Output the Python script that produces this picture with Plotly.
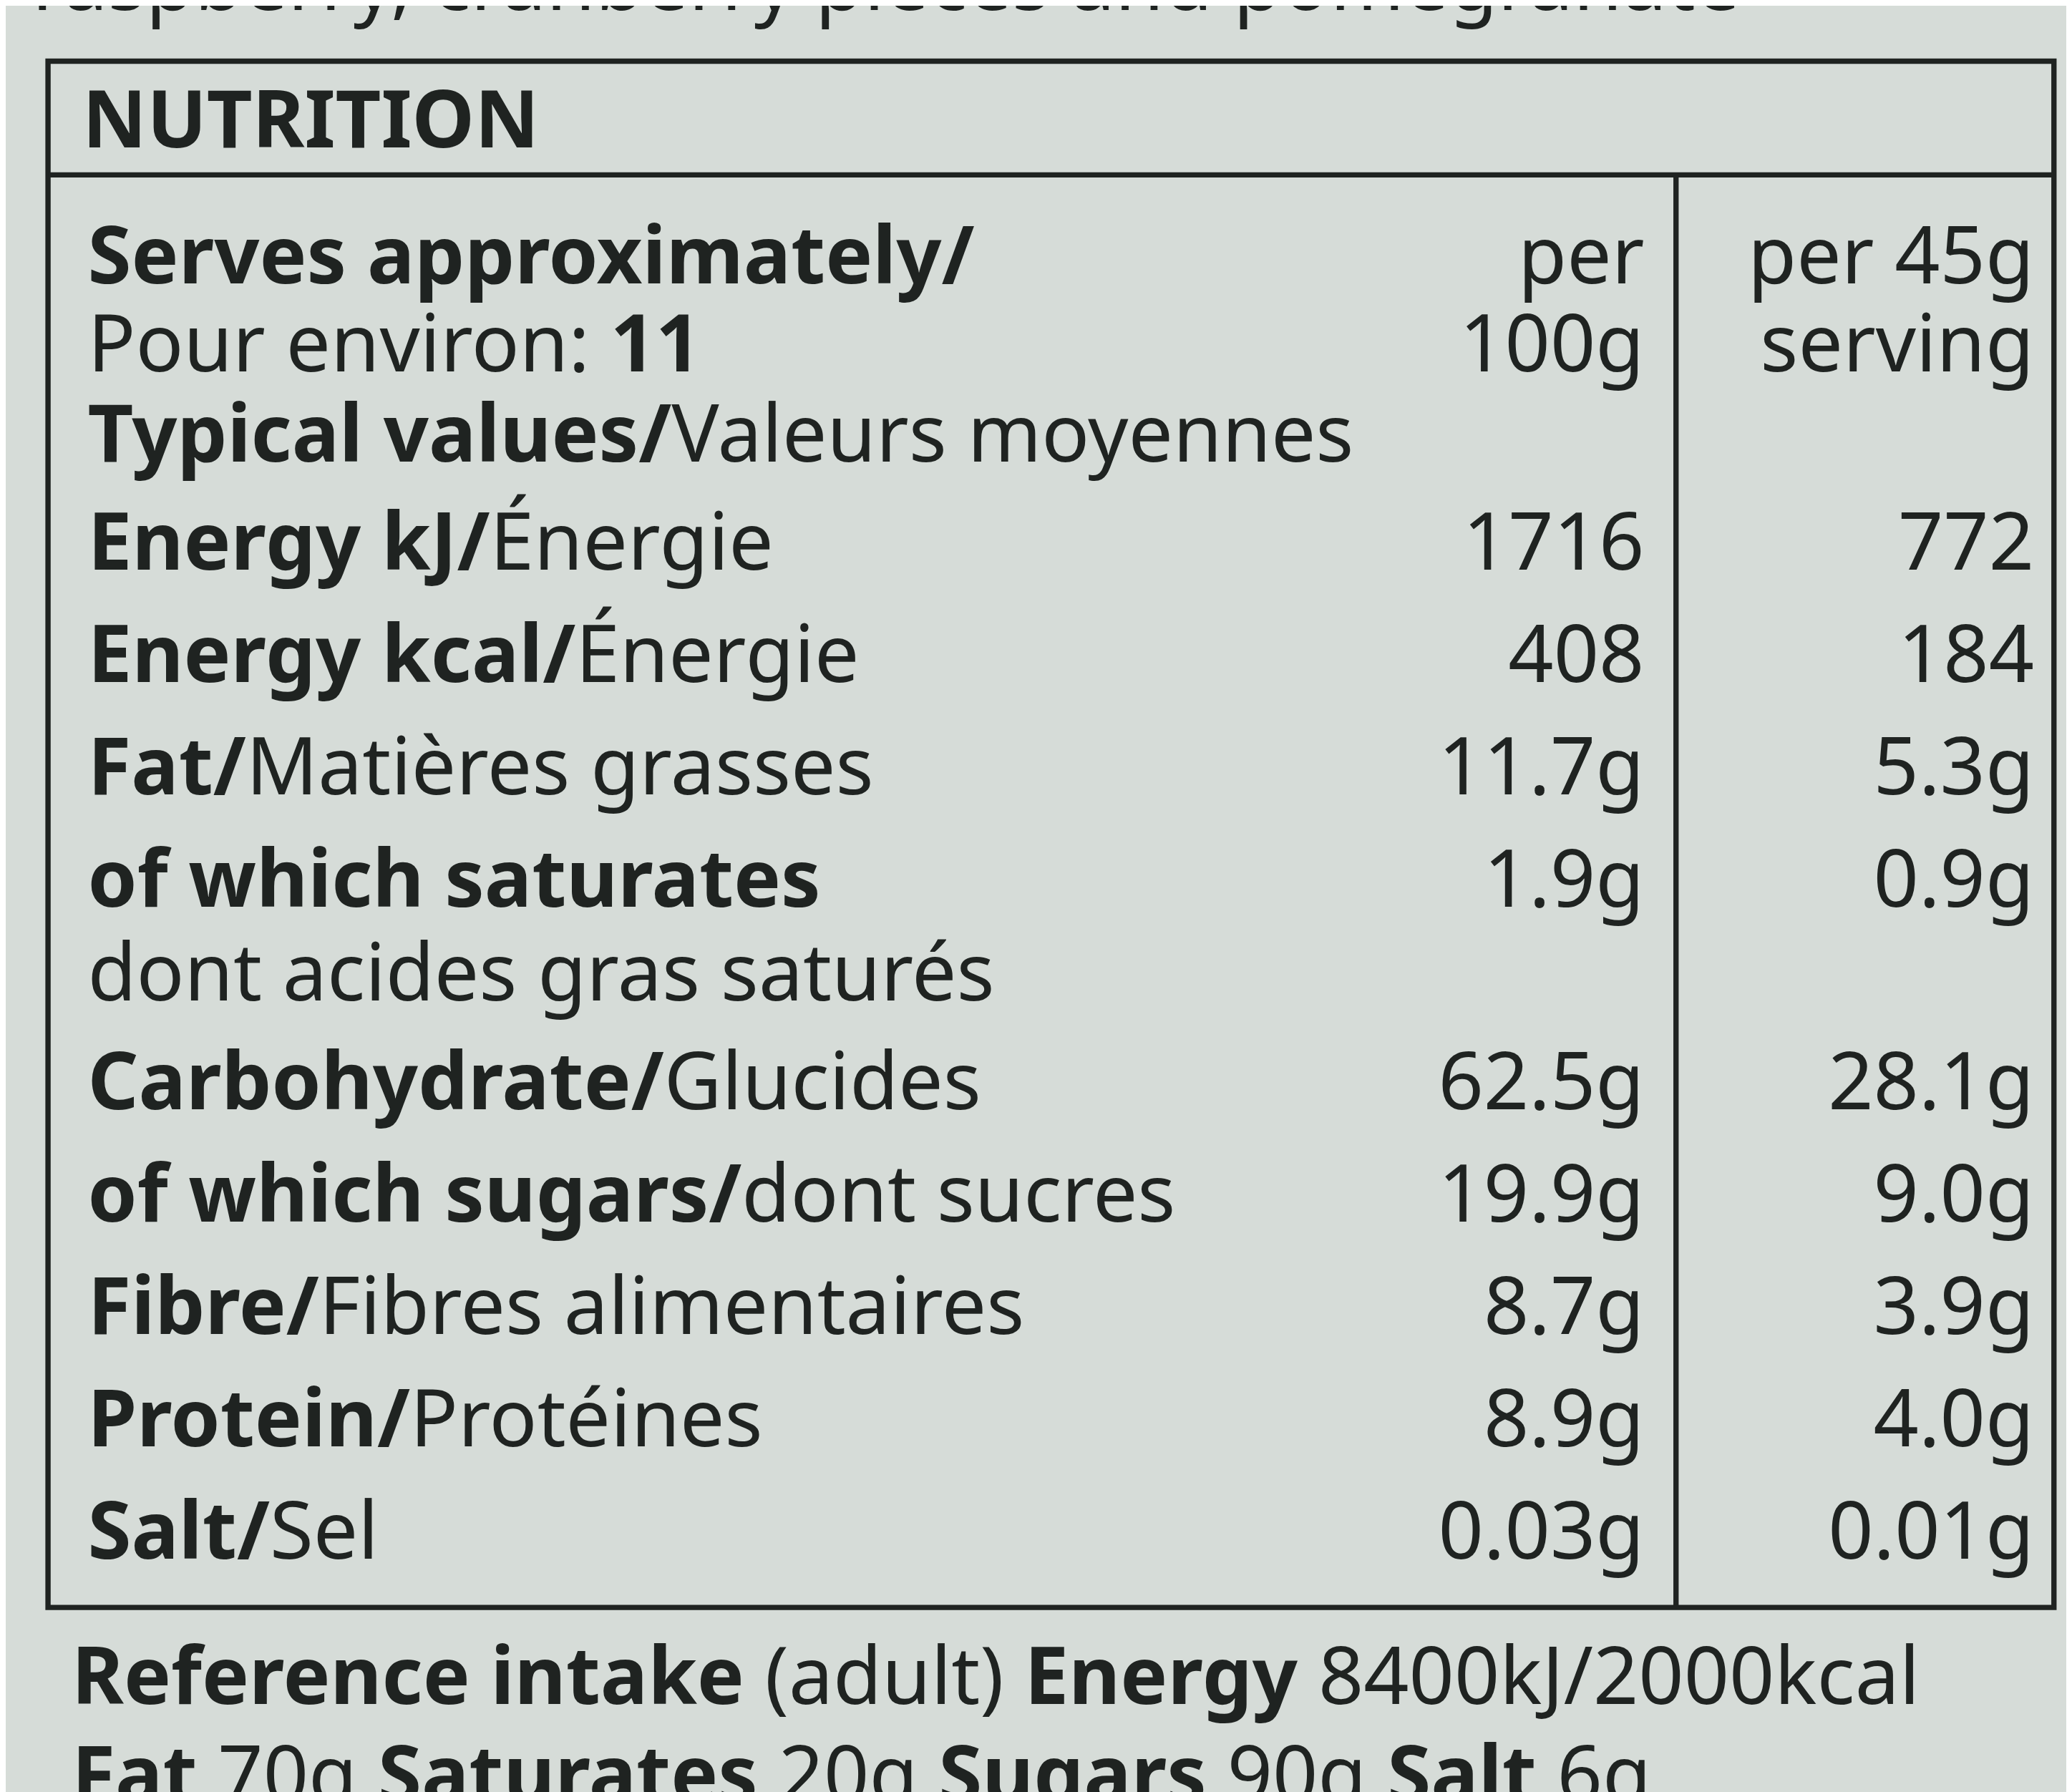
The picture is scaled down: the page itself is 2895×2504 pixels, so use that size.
import plotly.graph_objects as go

S = 2895/1568
bold_parts = ["Serves approximately/", "Pour environ: ", "Typical values/", "Energy kJ/", "Energy kcal/",
              "Fat/", "of which saturates", "", "Carbohydrate/", "of which sugars/", "Fibre/", "Protein/", "Salt/"]
reg_parts = ["", "", "Valeurs moyennes", "Énergie", "Énergie", "Matières grasses", "", "dont acides gras saturés",
             "Glucides", "dont sucres", "Fibres alimentaires", "Protéines", "Sel"]
row_y = [195, 262, 330, 412, 497, 582, 667, 738, 820, 905, 990, 1075, 1160]
per100 = ["per", "100g", "", "1716", "408", "11.7g", "1.9g", "", "62.5g", "19.9g", "8.7g", "8.9g", "0.03g"]
serving = ["per 45g", "serving", "", "772", "184", "5.3g", "0.9g", "", "28.1g", "9.0g", "3.9g", "4.0g", "0.01g"]

labels = []
for i, (b, r) in enumerate(zip(bold_parts, reg_parts)):
    t = (f"<b>{b}</b>" if b else "") + r
    if i == 0:
        t = "<b>Serves approximately/</b>"
    if i == 1:
        t = "Pour environ: <b>11</b>"
    if i == 0:
        pass
    labels.append(t)
labels[0] = "<b>Serves approximately/</b>"

col = "#1f2321"
fs = 60*S
font = "Noto Sans"
fig = go.Figure()
fig.add_trace(go.Scatter(x=[62]*len(row_y), y=row_y, mode="text", text=labels, textposition="middle right",
                         textfont=dict(size=fs, color=col, family=font), hoverinfo="skip"))
fig.add_trace(go.Scatter(x=[1240]*len(row_y), y=row_y, mode="text", text=per100, textposition="middle left",
                         textfont=dict(size=fs, color=col, family=font), hoverinfo="skip"))
fig.add_trace(go.Scatter(x=[1535]*len(row_y), y=row_y, mode="text", text=serving, textposition="middle left",
                         textfont=dict(size=fs, color=col, family=font), hoverinfo="skip"))
extra_text = ["<b>NUTRITION</b>", "<b>Reference intake</b> (adult) <b>Energy</b> 8400kJ/2000kcal",
              "<b>Fat</b> 70g <b>Saturates</b> 20g <b>Sugars</b> 90g <b>Salt</b> 6g",
              "raspberry, cranberry pieces and pomegranate"]
extra_y = [92, 1270, 1345, -12]
extra_x = [58, 50, 50, 20]
fig.add_trace(go.Scatter(x=extra_x, y=extra_y, mode="text", text=extra_text, textposition="middle right",
                         textfont=dict(size=fs, color=col, family=font), hoverinfo="skip"))

lw = 4*S
shapes = [
    dict(type="rect", x0=32, y0=42, x1=1550, y1=1212),
    dict(type="line", x0=32, y0=128, x1=1550, y1=128),
    dict(type="line", x0=1264, y0=128, x1=1264, y1=1212),
]
for s in shapes:
    s.update(xref="x", yref="y", line=dict(color=col, width=lw))

fig.update_layout(width=2895, height=2504, margin=dict(l=0, r=0, t=0, b=0),
                  paper_bgcolor="#d6dcd8", plot_bgcolor="#d6dcd8", showlegend=False, shapes=shapes,
                  xaxis=dict(range=[0, 1568], visible=False, fixedrange=True),
                  yaxis=dict(range=[1356, 0], visible=False, fixedrange=True))
fig.write_html("out.html")
